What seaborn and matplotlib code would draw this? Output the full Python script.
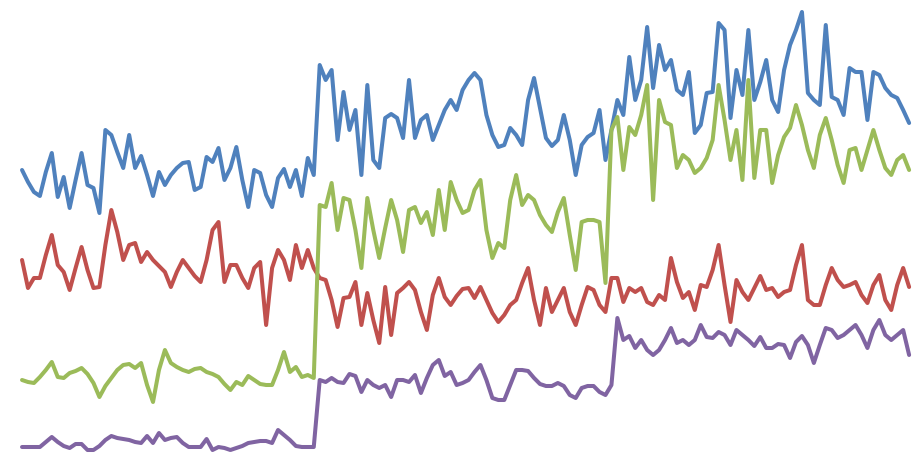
# four noisy series with two level shifts, no axes
import numpy as np
import pandas as pd
import matplotlib
matplotlib.use("Agg")
import matplotlib.pyplot as plt
import seaborn as sns

# =========================================
# DATA
# =========================================

blue = [
    287, 275, 265, 261, 285, 304, 260, 280, 249, 277, 304, 272, 269, 244, 327, 322, 305, 289, 322, 289,
    301, 282, 261, 285, 272, 282, 289, 294, 295, 267, 270, 300, 295, 309, 277, 289, 310, 277, 250, 287,
    284, 262, 250, 279, 288, 270, 287, 261, 299, 282,
    392, 377, 387, 317, 365, 327, 347, 282, 372, 297, 289, 339, 343, 339, 319, 377, 319, 337, 342, 317,
    332, 347, 357, 347, 367, 377, 384, 377, 342, 322, 310, 312, 329, 322, 312, 357, 379, 349, 319, 311,
    317, 342, 317, 282, 312, 320, 324, 347, 297, 327,
    357, 342, 400, 357, 377, 430, 369, 412, 387, 397, 367, 362, 385, 324, 332, 364, 365, 434, 427, 339,
    387, 362, 427, 357, 375, 397, 357, 345, 387, 412, 427, 445, 364, 357, 352, 432, 360, 357, 342, 389,
    385, 385, 337, 385, 382, 369, 362, 359, 347, 334,
]

red = [
    197, 169, 179, 179, 202, 222, 192, 185, 167, 189, 210, 187, 169, 170, 212, 247, 225, 197, 212, 214,
    195, 205, 197, 191, 185, 170, 185, 197, 189, 181, 175, 197, 227, 235, 175, 192, 192, 179, 169, 189,
    195, 132, 189, 207, 197, 177, 212, 189, 207, 189,
    179, 177, 157, 130, 159, 160, 175, 132, 164, 137, 114, 170, 122, 164, 169, 175, 167, 145, 127, 162,
    179, 160, 152, 161, 168, 169, 159, 170, 157, 144, 135, 142, 152, 157, 174, 189, 157, 132, 169, 145,
    157, 169, 145, 132, 152, 170, 167, 152, 145, 179,
    179, 155, 169, 165, 169, 155, 152, 162, 157, 199, 175, 159, 165, 147, 172, 170, 187, 212, 172, 135,
    177, 165, 157, 169, 181, 167, 169, 160, 165, 167, 192, 212, 157, 152, 152, 172, 189, 177, 170, 172,
    175, 162, 154, 172, 182, 157, 147, 172, 189, 170,
]

green = [
    77, 75, 74, 80, 87, 95, 80, 79, 84, 86, 89, 83, 74, 60, 71, 79, 87, 92, 93, 89,
    94, 72, 55, 87, 107, 94, 90, 87, 85, 88, 89, 85, 83, 80, 73, 67, 75, 72, 81, 77,
    73, 72, 72, 87, 105, 85, 90, 80, 82, 79,
    252, 250, 274, 227, 259, 257, 227, 189, 259, 227, 199, 229, 257, 237, 205, 247, 250, 234, 245, 222,
    267, 227, 275, 257, 244, 247, 267, 277, 227, 199, 214, 209, 257, 282, 252, 262, 257, 242, 232, 225,
    245, 259, 222, 187, 235, 237, 237, 235, 174, 327,
    340, 287, 330, 322, 342, 372, 257, 357, 335, 332, 289, 302, 297, 284, 289, 299, 317, 372, 337, 297,
    327, 277, 377, 279, 327, 327, 274, 302, 320, 329, 352, 332, 307, 289, 322, 339, 317, 292, 274, 307,
    309, 287, 307, 327, 307, 289, 282, 297, 302, 287,
]

purple = [
    10, 10, 10, 10, 15, 20, 15, 11, 9, 13, 13, 7, 7, 11, 17, 21, 19, 18, 17, 15,
    14, 21, 14, 24, 17, 19, 20, 14, 10, 10, 10, 18, 7, 10, 9, 7, 9, 11, 14, 15,
    16, 16, 14, 27, 22, 17, 11, 10, 10, 10,
    77, 75, 79, 75, 74, 83, 81, 65, 77, 72, 69, 72, 60, 77, 77, 75, 82, 64, 79, 92,
    97, 81, 85, 72, 74, 77, 85, 92, 77, 59, 57, 57, 72, 87, 87, 86, 79, 73, 71, 71,
    74, 71, 62, 59, 69, 71, 71, 65, 62, 72,
    139, 117, 121, 109, 117, 107, 102, 107, 117, 129, 114, 117, 112, 117, 132, 120, 119, 125, 122, 112,
    127, 122, 117, 111, 120, 109, 109, 113, 112, 99, 115, 121, 112, 94, 112, 129, 127, 119, 122, 127,
    132, 122, 109, 127, 137, 122, 117, 122, 127, 102,
]

series_names = ["Series 1", "Series 2", "Series 3", "Series 4"]
colors = ["#4f81bd", "#c0504d", "#9bbb59", "#8064a2"]

# =========================================
# LONG TABLE
# =========================================

frames = []
for name, vals in zip(series_names, [blue, red, green, purple]):
    frames.append(pd.DataFrame({
        "step": np.arange(len(vals)),
        "value": vals,
        "series": name
    }))
df = pd.concat(frames, ignore_index=True)

# =========================================
# PLOT
# =========================================

sns.set_style("white")

fig = plt.figure(figsize=(9.24, 4.57), dpi=100)
ax = fig.add_axes([0, 0, 1, 1])

sns.lineplot(
    data=df,
    x="step",
    y="value",
    hue="series",
    palette=colors,
    estimator=None,
    linewidth=2.9,
    legend=False,
    ax=ax
)

ax.set_xlim(-3.7, 151.5)
ax.set_ylim(0, 457)
ax.axis("off")

fig.savefig("out.png", dpi=100, facecolor="white")
plt.close(fig)
